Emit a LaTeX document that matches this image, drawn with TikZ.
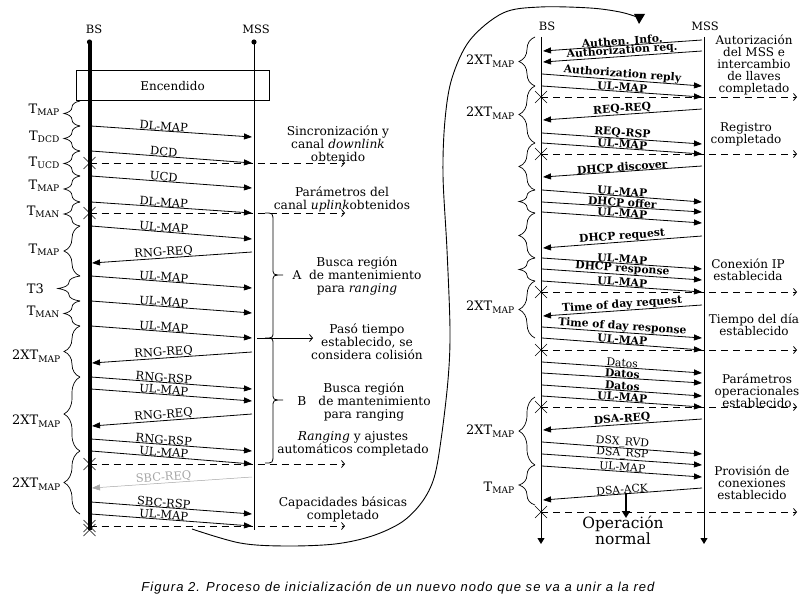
\documentclass[tikz,border=0pt]{standalone}
\usepackage{fontspec}
\setmainfont{DejaVu Serif}
\newfontfamily\capfont[LetterSpace=8]{Liberation Sans}
\usetikzlibrary{arrows.meta,decorations.pathreplacing,calc}
\newcommand\Tsub[1]{T\textsubscript{#1}}
\begin{document}
\begin{tikzpicture}[x=1pt,y=-1pt,
  msg/.style={line width=0.8pt,-{Triangle[length=8pt,width=6pt]}},
  lbl/.style={font=\fontsize{11.5}{12}\selectfont, sloped, above, inner sep=0pt, midway},
  rlbl/.style={lbl, font=\fontsize{10.8}{11}\selectfont\bfseries},
  rlbln/.style={lbl, font=\fontsize{10.8}{11}\selectfont},
  dashline/.style={dash pattern=on 7pt off 5pt, line width=0.8pt, -{Straight Barb[length=3pt,width=7pt]}},
  tbrace/.style={decorate, decoration={brace,amplitude=16pt}, line width=0.7pt},
  note/.style={font=\fontsize{12.2}{12.8}\selectfont, align=center},
  rnote/.style={font=\fontsize{12}{12}\selectfont, align=center},
  tlab/.style={font=\fontsize{13}{14}\selectfont, anchor=east, inner sep=0pt},
  xmark/.style={line width=0.6pt},
  head/.style={font=\fontsize{11.5}{12}\selectfont}
]
\useasboundingbox (0,0) rectangle (804,602);
\newcommand\Lmsg[4][]{\draw[msg,#1] (91,#2) -- (252,#3) node[lbl,pos=0.45]{#4};}
\newcommand\Lback[4][]{\draw[msg,#1] (252,#2) -- (92,#3) node[lbl,pos=0.55]{#4};}
\newcommand\Rmsg[4][rlbl]{\draw[msg] (542,#2) -- (702,#3) node[#1]{#4};}
\newcommand\Rback[4][rlbl]{\draw[msg] (702,#2) -- (543,#3) node[#1]{#4};}
\newcommand\Xm[2]{\draw[xmark] (#1-6,#2-6) -- (#1+6,#2+6) (#1-6,#2+6) -- (#1+6,#2-6);}

% ---------- left panel ----------
\node[head] (bsL) at (94,29) {BS};
\node[head] (mssL) at (256,29) {MSS};
\coordinate (bsLt) at (89.5,42); \coordinate (bsLb) at (89.5,530);
\coordinate (mssLt) at (254,42); \coordinate (mssLb) at (254,530);
\draw[line width=4pt] (bsLt) -- (bsLb);
\draw[line width=1pt] (mssLt) -- (mssLb);
\fill (bsLt) circle (2.6); \fill (mssLt) circle (2.6);
\node[draw, line width=1pt, minimum width=193pt, minimum height=30pt, font=\fontsize{12}{12}\selectfont] (enc) at (172.5,86) {Encendido};

\Lmsg{126}{137}{DL-MAP}
\Lmsg{151}{163}{DCD}
\Lmsg{176}{188}{UCD}
\Lmsg{202}{213}{DL-MAP}
\Lmsg{226}{239}{UL-MAP}
\Lback{252}{263}{RNG-REQ}
\Lmsg{276}{288}{UL-MAP}
\Lmsg{301}{313}{UL-MAP}
\Lmsg{326}{338}{UL-MAP}
\Lback{352}{363}{RNG-REQ}
\Lmsg{377}{389}{RNG-RSP}
\Lmsg{389}{401}{UL-MAP}
\Lback{414}{426}{RNG-REQ}
\Lmsg{439}{451}{RNG-RSP}
\Lmsg{451}{464}{UL-MAP}
\Lback[gray!70,line width=0.5pt]{477}{488}{SBC-REQ}
\Lmsg{502}{514}{SBC-RSP}
\Lmsg{514}{526}{UL-MAP}

\foreach \yy in {163,213,464,526}{\Xm{89.5}{\yy}\draw[dashline] (89.5,\yy) -- (345,\yy);}
\Xm{89.5}{530}

% left braces
\draw[tbrace] (80,126) -- (80,101);
\draw[tbrace] (80,151) -- (80,126);
\draw[tbrace] (80,176) -- (80,151);
\draw[tbrace] (80,202) -- (80,176);
\draw[tbrace] (80,226) -- (80,202);
\draw[tbrace] (80,276) -- (80,226);
\draw[tbrace,decoration={amplitude=22pt}] (80,301) -- (80,276);
\draw[tbrace] (80,326) -- (80,301);
\draw[tbrace] (80,377) -- (80,326);
\draw[tbrace] (80,451) -- (80,377);
\draw[tbrace] (80,514) -- (80,451);
\node[tlab] (t1) at (60,110) {\Tsub{MAP}};
\node[tlab] (t2) at (60,137) {\Tsub{DCD}};
\node[tlab] (t3) at (60,163) {\Tsub{UCD}};
\node[tlab] (t4) at (60,186) {\Tsub{MAP}};
\node[tlab] (t5) at (60,212) {\Tsub{MAN}};
\node[tlab] (t6) at (60,250) {\Tsub{MAP}};
\node[tlab] (t7) at (44,289) {T3};
\node[tlab] (t8) at (60,312) {\Tsub{MAN}};
\node[tlab] (t9) at (61,356) {2XT\textsubscript{MAP}};
\node[tlab] (t10) at (61,421) {2XT\textsubscript{MAP}};
\node[tlab] (t11) at (61,484) {2XT\textsubscript{MAP}};

% right compound brace of left panel
\draw[line width=0.8pt] (265,213) .. controls (273,213) .. (273,222) -- (273,268)
  .. controls (273,275) .. (283,275) .. controls (273,275) .. (273,282) -- (273,331)
  .. controls (273,338) .. (265,338) .. controls (273,338) .. (273,345) -- (273,393)
  .. controls (273,400) .. (283,400) .. controls (273,400) .. (273,407) -- (273,454)
  .. controls (273,463) .. (265,463);
\coordinate (colA) at (257,338); \coordinate (colB) at (313,338);
\draw[line width=0.8pt,-{Straight Barb[length=3pt,width=7pt]}] (colA) -- (colB);

\node[note] (n1) at (338,144) {Sincronización y\\canal \textit{downlink}\\obtenido};
\node[note] (n2) at (342,199) {Parámetros del\\canal \textit{uplink}obtenidos};
\node[note] (n3) at (357,276) {Busca región\\A\ \ de mantenimiento\\para \textit{ranging}};
\node[note] (n4) at (367,342) {Pasó tiempo\\establecido, se\\considera colisión};
\node[note] (n5) at (364,402) {Busca región\\B\quad de mantenimiento\\para ranging};
\node[note] (n6) at (353,444) {\textit{Ranging} y ajustes\\automáticos completado};
\node[note] (n7) at (343,509) {Capacidades básicas\\completado};

% ---------- connector curve ----------
\coordinate (cs) at (192,529);
\coordinate (ce) at (639,24);
\draw[line width=0.9pt] plot[smooth, tension=0.55] coordinates {(cs) (240,543) (285,546) (335,544) (372,536) (402,522) (422,502) (434,478) (441,440) (448,380) (450,330) (447,250) (443,175) (445,120) (452,78) (470,40) (503,13) (540,7) (590,8) (620,12) (637,17)};
\fill (634,14) -- (645,14) -- (ce) -- cycle;

% ---------- right panel ----------
\node[head] (bsR) at (547,26) {BS};
\node[head] (mssR) at (705,26) {MSS};
\coordinate (bsRt) at (541,37); \coordinate (bsRb) at (541,544);
\coordinate (mssRt) at (704,37); \coordinate (mssRb) at (704,544);
\draw[line width=1pt,-{Triangle[length=6pt,width=7pt]}] (bsRt) -- (bsRb);
\draw[line width=1pt,-{Triangle[length=6pt,width=7pt]}] (mssRt) -- (mssRb);

\Rback{40}{51}{Authen. Info.}
\Rback{51}{62}{Authorization req.}
\Rmsg{74}{86}{Authorization reply}
\Rmsg{86}{97}{UL-MAP}
\Rback{109}{120}{REQ-REQ}
\Rmsg{133}{144}{REQ-RSP}
\Rmsg{143}{154}{UL-MAP}
\Rback{166}{177}{DHCP discover}
\Rmsg{190}{202}{UL-MAP}
\Rmsg{202}{212}{DHCP offer}
\Rmsg{212}{223}{UL-MAP}
\Rback{236}{248}{DHCP request}
\Rmsg{258}{269}{UL-MAP}
\Rmsg{269}{280}{DHCP response}
\Rmsg{281}{292}{UL-MAP}
\Rback{305}{316}{Time of day request}
\Rmsg{327}{338}{Time of day response}
\Rmsg{338}{350}{UL-MAP}
\Rmsg[rlbln]{362}{373}{Datos}
\Rmsg{373}{383}{Datos}
\Rmsg{385}{396}{Datos}
\Rmsg{396}{407}{UL-MAP}
\Rback{419}{430}{DSA-REQ}
\Rmsg[rlbln]{442}{454}{DSX\_RVD}
\Rmsg[rlbln]{454}{465}{DSA\_RSP}
\Rmsg[rlbln]{466}{477}{UL-MAP}
\Rback[rlbln]{488}{500}{DSA-ACK}

\foreach \yy in {97,154,292,350,407,512}{\Xm{541}{\yy}\draw[dashline] (541,\yy) -- (797,\yy);}

\draw[tbrace] (535,86) -- (535,37);
\draw[tbrace] (535,143) -- (535,86);
\draw[tbrace] (535,190) -- (535,143);
\draw[tbrace] (535,213) -- (535,190);
\draw[tbrace] (535,258) -- (535,213);
\draw[tbrace] (535,281) -- (535,258);
\draw[tbrace] (535,338) -- (535,281);
\draw[tbrace] (535,465) -- (535,397);
\draw[tbrace] (535,505) -- (535,465);
\node[tlab] (r1) at (515,61) {2XT\textsubscript{MAP}};
\node[tlab] (r2) at (515,113) {2XT\textsubscript{MAP}};
\node[tlab] (r3) at (515,307) {2XT\textsubscript{MAP}};
\node[tlab] (r4) at (515,431) {2XT\textsubscript{MAP}};
\node[tlab] (r5) at (515,488) {\Tsub{MAP}};

\node[rnote] (m1) at (754,65) {Autorización\\del MSS e\\intercambio\\de llaves\\completado};
\node[rnote] (m2) at (746,134) {Registro\\completado};
\node[rnote] (m3) at (748,270) {Conexión IP\\establecida};
\node[rnote] (m4) at (754,325) {Tiempo del día\\establecido};
\node[rnote] (m5) at (757,391) {Parámetros\\operacionales\\establecido};
\node[rnote] (m6) at (752,483) {Provisión de\\conexiones\\establecido};

\coordinate (opA) at (626,493); \coordinate (opB) at (626,518);
\draw[line width=2.2pt,-{Triangle[length=7pt,width=8pt]}] (opA) -- (opB);
\node[font=\fontsize{15.5}{14.5}\selectfont, align=center] (op) at (623,530) {Operación\\normal};

\node[font=\capfont\itshape\fontsize{13}{14}\selectfont] (cap) at (398,588) {Figura 2. Proceso de inicialización de un nuevo nodo que se va a unir a la red};
\end{tikzpicture}
\end{document}
